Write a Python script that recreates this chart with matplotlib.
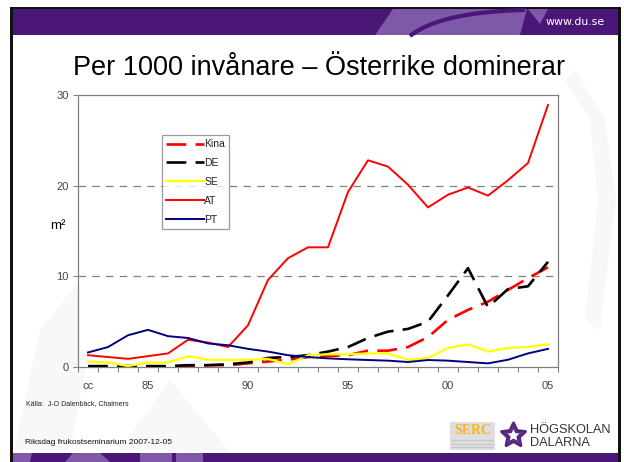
import numpy as np
import matplotlib
matplotlib.use("Agg")
import matplotlib.pyplot as plt
from matplotlib.patches import Rectangle, Polygon

# ---------------- data ----------------
years = [1982, 1983, 1984, 1985, 1986, 1987, 1988, 1989, 1990, 1991, 1992, 1993,
         1994, 1995, 1996, 1997, 1998, 1999, 2000, 2001, 2002, 2003, 2004, 2005]
kina = [0.05, 0.05, 0.05, 0.05, 0.05, 0.1, 0.2, 0.2, 0.4, 0.6, 0.8, 1.1,
        1.2, 1.3, 1.8, 1.8, 2.2, 3.3, 5.2, 6.3, 7.2, 8.5, 9.8, 11.0]
de = [0.1, 0.1, 0.1, 0.1, 0.1, 0.2, 0.2, 0.3, 0.5, 1.0, 1.1, 1.3,
      1.7, 2.2, 3.2, 3.9, 4.2, 5.0, 7.9, 10.9, 6.6, 8.6, 8.9, 11.6]
se = [0.6, 0.5, 0.1, 0.5, 0.5, 1.2, 0.8, 0.8, 0.8, 0.9, 0.3, 1.3,
      1.4, 1.4, 1.5, 1.5, 0.8, 1.0, 2.1, 2.5, 1.7, 2.1, 2.2, 2.5]
at = [1.3, 1.1, 0.9, 1.2, 1.5, 3.0, 2.7, 2.2, 4.6, 9.6, 12.0, 13.2,
      13.2, 19.3, 22.8, 22.1, 20.1, 17.6, 19.0, 19.8, 18.9, 20.6, 22.5, 28.9]
pt = [1.6, 2.2, 3.5, 4.1, 3.4, 3.2, 2.6, 2.4, 2.0, 1.7, 1.3, 1.1,
      0.95, 0.85, 0.77, 0.7, 0.55, 0.77, 0.7, 0.55, 0.4, 0.8, 1.5, 2.0]

series_names = ["Kina", "DE", "SE", "AT", "PT"]
xtick_years = [1982, 1985, 1990, 1995, 2000, 2005]
xtick_labels = ["cc", "85", "90", "95", "00", "05"]
yticks = [0, 10, 20, 30]
grid_values = [10, 20]

title = "Per 1000 invånare \u2013 Österrike dominerar"
source = "Källa:  J-O Dalenbäck, Chalmers"
footer = "Riksdag frukostseminarium 2007-12-05"

plt.rcParams['font.family'] = ['Liberation Sans', 'DejaVu Sans']

W, H = 624, 462
fig = plt.figure(figsize=(W / 100, H / 100), dpi=100)
fig.patch.set_facecolor('white')

# ---------------- slide background (pixel coordinates) ----------------
bg = fig.add_axes([0, 0, 1, 1], zorder=0)
bg.set_xlim(0, W)
bg.set_ylim(H, 0)
bg.axis('off')

dark_purple = '#4a1677'
light_purple = '#7d59a7'
faint = '#f8f8fa'

# faint watermark shapes
bg.add_patch(Polygon([(14, 450), (40, 330), (120, 230), (150, 215), (95, 320), (70, 450)],
                     closed=True, facecolor=faint, edgecolor='none'))
bg.add_patch(Polygon([(120, 450), (170, 380), (230, 452)], closed=True,
                     facecolor=faint, edgecolor='none'))
bg.add_patch(Polygon([(575, 70), (605, 120), (616, 200), (600, 330), (585, 320),
                      (598, 200), (590, 120), (565, 80)], closed=True,
                     facecolor=faint, edgecolor='none'))

# header bar
bg.add_patch(Rectangle((12, 9), 606, 26, facecolor=dark_purple, edgecolor='none'))
bg.add_patch(Polygon([(375, 35), (393, 9), (527, 9), (520, 35)], closed=True,
                     facecolor=light_purple, edgecolor='none'))
bg.add_patch(Polygon([(528, 9), (548, 9), (540, 24)], closed=True,
                     facecolor=light_purple, edgecolor='none'))
tt = np.linspace(0, 1, 40)
p0, p1, p2 = np.array([410, 36]), np.array([440, 12]), np.array([525, 10])
curve = ((1 - tt) ** 2)[:, None] * p0 + (2 * (1 - tt) * tt)[:, None] * p1 + (tt ** 2)[:, None] * p2
bg.plot(curve[:, 0], curve[:, 1], color=dark_purple, lw=3.0, solid_capstyle='butt')
bg.text(605, 22, "www.du.se", color='white', fontsize=7.9, family='DejaVu Sans',
        ha='right', va='center')

# footer bar
bg.add_patch(Rectangle((12, 453), 606, 12, facecolor=dark_purple, edgecolor='none'))
for poly in ([(13, 453), (32, 453), (30, 462), (13, 462)],
             [(73, 453), (100, 453), (110, 462), (65, 462)],
             [(140, 453), (172, 453), (172, 462), (140, 462)],
             [(176, 453), (203, 453), (203, 462), (176, 462)]):
    bg.add_patch(Polygon(poly, closed=True, facecolor=light_purple, edgecolor='none'))

# dark frame
bg.add_patch(Rectangle((10, 7), 611, 2, facecolor='#111111', edgecolor='none'))
bg.add_patch(Rectangle((10, 7), 3, 460, facecolor='#111111', edgecolor='none'))
bg.add_patch(Rectangle((618, 7), 3, 460, facecolor='#111111', edgecolor='none'))

# title and texts
bg.text(319.5, 75, title, fontsize=19.5, ha='center', va='baseline', color='black')
bg.text(26, 404, source, fontsize=5.0, ha='left', va='center', color='#222222')
bg.text(25, 443, footer, fontsize=6.0, ha='left', va='center', color='#111111')
bg.text(58, 226, "m\u00b2", fontsize=9.5, ha='center', va='center', color='black')

# SERC logo
bg.add_patch(Rectangle((450, 422), 45, 28, facecolor='#dedede', edgecolor='none'))
bg.text(472.5, 430, "SERC", fontsize=10, fontweight='bold', family='Liberation Serif',
        color='#fbb41a', ha='center', va='center')
for yy in (440, 443.5, 447):
    bg.plot([452, 493], [yy, yy], color='#c8c8c8', lw=0.8)

# star logo
cx, cy = 513.5, 435.5
ang = -np.pi / 2 + np.arange(10) * np.pi / 5
rad_out = np.where(np.arange(10) % 2 == 0, 12.5, 6.0)
rad_in = np.where(np.arange(10) % 2 == 0, 8.0, 3.8)
bg.add_patch(Polygon(np.c_[cx + rad_out * np.cos(ang), cy + rad_out * np.sin(ang)],
                     closed=True, fill=False, edgecolor='#55287f', lw=2.2, joinstyle='round'))
bg.add_patch(Polygon(np.c_[cx + rad_in * np.cos(ang), cy + rad_in * np.sin(ang)],
                     closed=True, fill=False, edgecolor='#55287f', lw=1.0, joinstyle='round'))
bg.text(530, 430, "HÖGSKOLAN", fontsize=9.2, ha='left', va='center', color='#333333')
bg.text(530, 443, "DALARNA", fontsize=9.2, ha='left', va='center', color='#333333')

# ---------------- chart ----------------
ax = fig.add_axes([78 / W, 1 - 367 / H, 480 / W, 272 / H], zorder=2)
ax.set_facecolor('white')
ax.set_xlim(1981.5, 2005.5)
ax.set_ylim(0, 30)

for g in grid_values:
    ax.axhline(g, color='#808080', lw=0.9, dashes=(6, 5), zorder=1)

dash = (7.5, 3.5)
ax.plot(years, kina, color='#ff0000', lw=1.9, dashes=dash, label=series_names[0], zorder=3)
ax.plot(years, de, color='black', lw=1.9, dashes=dash, label=series_names[1], zorder=3)
ax.plot(years, se, color='#ffff00', lw=1.6, label=series_names[2], zorder=3)
ax.plot(years, at, color='#ff0000', lw=1.4, label=series_names[3], zorder=3)
ax.plot(years, pt, color='#000080', lw=1.4, label=series_names[4], zorder=3)

for s in ax.spines.values():
    s.set_color('#808080')
    s.set_linewidth(0.9)

ax.set_yticks(yticks)
ax.tick_params(axis='y', direction='out', length=3.6, width=0.8, color='#808080',
               labelsize=8, labelcolor='#444444', pad=3)
ax.set_xticks(xtick_years)
ax.set_xticklabels(xtick_labels)
ax.set_xticks(np.arange(1981.5, 2006.0, 1.0), minor=True)
ax.tick_params(axis='x', which='major', length=0, labelsize=8, labelcolor='#444444', pad=10)
ax.tick_params(axis='x', which='minor', direction='out', length=3.6, width=0.8, color='#808080')

leg = ax.legend(loc='upper left', bbox_to_anchor=((162 - 78) / 480, (367 - 135) / 272),
                fontsize=7.5, frameon=True, fancybox=False, edgecolor='#808080',
                handlelength=3.6, handletextpad=0.05, labelspacing=0.85,
                borderpad=0.4, borderaxespad=0)
leg.get_frame().set_linewidth(0.9)
for t in leg.get_texts():
    t.set_color('#222222')

fig.savefig("out.png", dpi=100, facecolor='white')
